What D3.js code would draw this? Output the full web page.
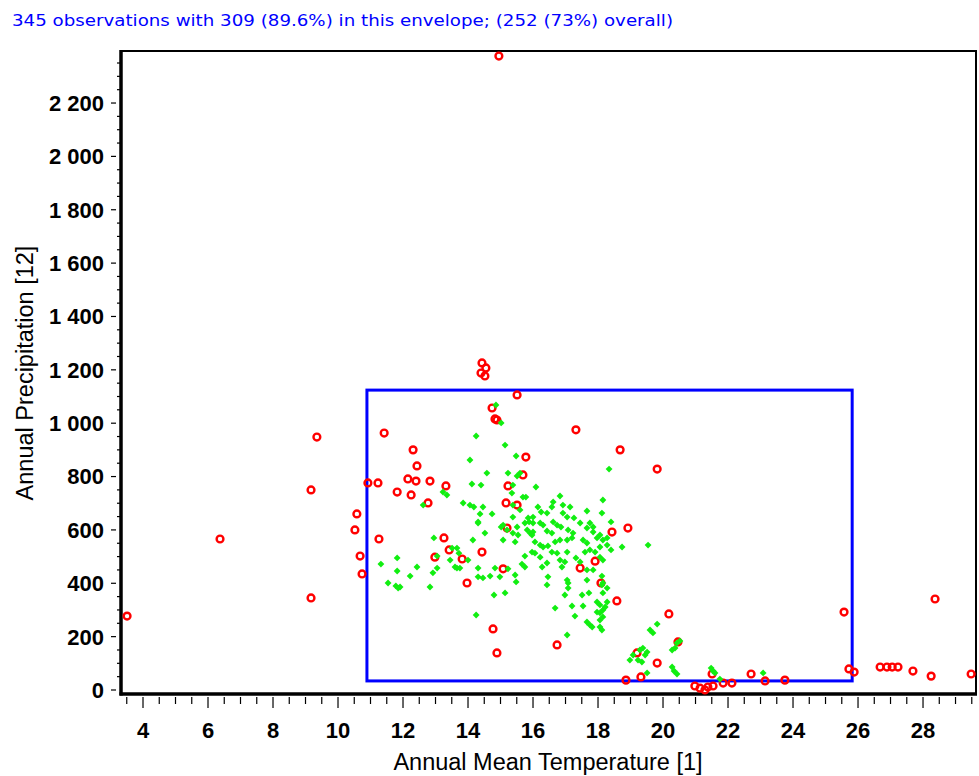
<!DOCTYPE html>
<html>
<head>
<meta charset="utf-8">
<script src="https://cdn.jsdelivr.net/npm/d3@7"></script>
<style>
  body { margin: 0; background: #fff; }
  svg { display: block; }
</style>
</head>
<body>
<div id="chart"></div>
<script>
// chart values
var titleText = "345 observations with 309 (89.6%) in this envelope; (252 (73%) overall)";
var xLabel = "Annual Mean Temperature [1]";
var yLabel = "Annual Precipitation [12]";

var xTicks = [4, 6, 8, 10, 12, 14, 16, 18, 20, 22, 24, 26, 28];
var yTicks = [0, 200, 400, 600, 800, 1000, 1200, 1400, 1600, 1800, 2000, 2200];

// envelope box: [tempMin, tempMax], [precipMin, precipMax]
var envTemp = [10.89, 25.82];
var envPrecip = [34, 1124];

// red rings (temperature, precipitation)
var outliers = [
  [3.51,277],[6.37,566],[9.17,750],[9.35,948],[9.17,345],[10.58,660],[10.52,600],[10.68,502],[10.74,435],[10.92,776],
  [11.23,776],[11.26,566],[11.42,963],[12.31,900],[12.43,840],[12.15,791],[12.4,783],[12.83,783],[11.82,742],[12.25,731],
  [12.77,701],[13.32,765],[13.26,570],[14.43,1226],[14.55,1207],[14.4,1188],[14.52,1177],[14.95,2376],[15.51,1106],[14.74,1057],
  [14.83,1016],[14.89,1012],[15.78,873],[15.69,806],[15.23,765],[15.17,701],[15.51,693],[15.2,607],[18.43,592],[18.92,607],
  [13.42,525],[12.98,498],[13.82,491],[14.43,517],[15.08,454],[17.45,457],[17.91,483],[18.09,401],[13.97,401],[18.58,334],
  [14.77,229],[16.74,169],[14.89,139],[17.32,975],[18.68,900],[19.82,828],[20.18,285],[20.46,180],[19.2,139],[19.82,101],
  [18.86,37],[19.32,49],[20.98,15],[21.14,7],[21.29,0],[21.38,11],[21.54,15],[21.51,60],[21.85,26],[22.12,26],
  [22.71,60],[23.14,34],[23.75,37],[25.57,292],[25.72,79],[25.88,67],[26.68,86],[26.89,86],[27.05,86],[27.23,86],
  [27.69,71],[28.25,52],[28.37,341],[29.48,60]
];

// green diamonds (temperature, precipitation)
var inliers = [
  [14.86,1068],[15.02,1001],[14.25,952],[15.14,918],[14.06,862],[15.48,877],[14.58,813],[15.23,813],[15.51,802],[15.6,813],
  [14.12,772],[14.4,768],[13.23,742],[13.35,731],[12.62,693],[13.85,701],[14.06,693],[14.18,686],[14.46,686],[15.35,738],
  [15.69,723],[15.38,693],[14.37,660],[14.74,660],[15.6,675],[14.31,626],[15.08,618],[15.2,600],[15.38,588],[15.75,626],
  [14.52,588],[15.91,588],[16.0,592],[12.95,570],[14.15,562],[15.08,562],[16.15,686],[16.0,648],[16.09,761],[15.78,723],
  [16.83,727],[16.62,705],[16.58,686],[16.92,693],[17.14,686],[18.15,712],[16.25,667],[16.43,663],[16.92,663],[17.05,648],
  [17.66,671],[18.12,663],[15.38,648],[15.85,645],[15.88,630],[16.0,626],[16.22,626],[16.31,618],[16.62,630],[16.74,618],
  [16.86,611],[17.26,645],[17.45,626],[17.75,626],[17.85,611],[18.4,630],[14.31,630],[15.02,611],[15.51,611],[15.54,581],
  [15.82,600],[15.97,581],[16.43,596],[16.58,588],[17.08,600],[17.23,588],[17.66,607],[17.85,592],[18.06,581],[18.15,562],
  [15.45,555],[16.06,555],[16.22,543],[16.31,536],[16.46,540],[16.68,555],[16.83,562],[17.05,562],[17.2,570],[17.54,562],
  [17.66,551],[17.97,570],[18.28,570],[18.74,536],[18.06,536],[18.28,543],[13.66,532],[15.97,517],[16.06,513],[16.58,517],
  [16.74,513],[17.05,517],[17.6,517],[17.75,525],[17.91,517],[18.4,525],[13.45,487],[14.0,487],[15.75,502],[16.22,498],
  [16.43,476],[16.83,487],[16.98,480],[17.32,495],[17.45,480],[18.06,498],[18.15,487],[12.43,461],[13.05,457],[12.92,439],
  [13.66,457],[13.75,457],[14.31,457],[14.83,457],[15.23,454],[15.66,472],[15.75,461],[16.28,461],[16.89,461],[17.66,450],
  [17.85,450],[12.22,427],[14.68,427],[15.45,431],[14.31,424],[14.46,420],[14.98,424],[16.46,424],[17.05,412],[17.08,401],
  [17.66,412],[18.12,427],[12.83,386],[15.48,405],[16.43,394],[17.08,382],[18.12,394],[18.28,382],[14.8,356],[15.14,364],
  [16.98,356],[17.51,356],[17.72,364],[17.97,330],[18.06,319],[18.28,330],[17.2,315],[17.54,315],[16.68,307],[18.15,300],
  [18.06,289],[17.97,292],[17.29,277],[18.15,274],[14.25,281],[17.66,255],[17.75,244],[17.82,236],[18.06,236],[18.12,225],
  [17.05,206],[11.82,495],[11.32,472],[13.05,502],[11.82,446],[11.54,401],[11.78,390],[11.91,386],[11.85,382],[13.6,461],
  [13.72,513],[13.51,532],[15.38,768],[18.34,828],[18.15,401],[18.15,364],[18.22,311],[18.06,262],[19.82,247],[19.6,225],
  [19.69,214],[20.28,150],[20.37,157],[20.43,176],[20.52,184],[19.29,150],[19.38,157],[19.51,142],[19.45,131],[19.23,112],
  [19.35,105],[19.08,131],[18.98,112],[19.51,64],[20.28,86],[20.34,71],[20.43,60],[21.48,82],[21.54,71],[21.6,64],
  [21.75,41],[23.08,64],[19.54,543]
];

var width = 979;
var height = 776;
var plot = { left: 121, right: 976, top: 51, bottom: 694 };

var svg = d3.select("#chart")
    .append("svg")
    .attr("width", width)
    .attr("height", height)
    .style("font-family", "'Liberation Sans', Arial, sans-serif");

var x = d3.scaleLinear().domain([3.323, 29.63]).range([plot.left, plot.right]);
var y = d3.scaleLinear().domain([-15, 2395]).range([plot.bottom, plot.top]);

var fmt = function(d) { return d3.format(",")(d).replace(/,/g, " "); };

// title
svg.append("text")
    .attr("x", 12)
    .attr("y", 26)
    .attr("fill", "#0000ff")
    .style("font-family", "'DejaVu Sans', Verdana, sans-serif")
    .style("font-size", "15px")
    .attr("textLength", 661)
    .attr("lengthAdjust", "spacingAndGlyphs")
    .text(titleText);

// frame (thin top/right)
svg.append("rect")
    .attr("x", plot.left)
    .attr("y", plot.top)
    .attr("width", plot.right - plot.left)
    .attr("height", plot.bottom - plot.top)
    .attr("fill", "none")
    .attr("stroke", "#000")
    .attr("stroke-width", 2);

// x ticks
var xMinor = d3.range(3.5, 29.6, 0.5);
svg.append("g").selectAll("line")
    .data(xMinor)
    .enter().append("line")
    .attr("x1", function(d) { return x(d); })
    .attr("x2", function(d) { return x(d); })
    .attr("y1", plot.bottom + 3)
    .attr("y2", function(d) { return xTicks.indexOf(d) >= 0 ? plot.bottom + 14 : plot.bottom + 10; })
    .attr("stroke", "#000")
    .attr("stroke-width", 1.2);

svg.append("g").selectAll("text")
    .data(xTicks)
    .enter().append("text")
    .attr("x", function(d) { return x(d); })
    .attr("y", 738)
    .attr("text-anchor", "middle")
    .style("font-size", "22px")
    .style("font-weight", "bold")
    .text(function(d) { return d; });

// y ticks
var yMinor = d3.range(0, 2400, 50);
svg.append("g").selectAll("line")
    .data(yMinor)
    .enter().append("line")
    .attr("x1", function(d) { return yTicks.indexOf(d) >= 0 ? plot.left - 10 : plot.left - 4; })
    .attr("x2", function(d) { return yTicks.indexOf(d) >= 0 ? plot.left - 5 : plot.left - 1; })
    .attr("y1", function(d) { return y(d); })
    .attr("y2", function(d) { return y(d); })
    .attr("stroke", "#000")
    .attr("stroke-width", 1.2);

svg.append("g").selectAll("text")
    .data(yTicks)
    .enter().append("text")
    .attr("x", 104)
    .attr("y", function(d) { return y(d); })
    .attr("dy", "0.36em")
    .attr("text-anchor", "end")
    .style("font-size", "22px")
    .style("font-weight", "bold")
    .text(fmt);

// thick left and bottom axis lines
svg.append("line")
    .attr("x1", plot.left).attr("x2", plot.left)
    .attr("y1", plot.top - 1).attr("y2", plot.bottom + 1.5)
    .attr("stroke", "#000").attr("stroke-width", 3.5);
svg.append("line")
    .attr("x1", plot.left - 1.5).attr("x2", plot.right + 1)
    .attr("y1", plot.bottom).attr("y2", plot.bottom)
    .attr("stroke", "#000").attr("stroke-width", 3.5);

// axis titles
svg.append("text")
    .attr("x", 548)
    .attr("y", 770)
    .attr("text-anchor", "middle")
    .style("font-size", "23.5px")
    .text(xLabel);

svg.append("text")
    .attr("transform", "translate(33,373) rotate(-90)")
    .attr("text-anchor", "middle")
    .style("font-size", "23.5px")
    .text(yLabel);

// envelope
svg.append("rect")
    .attr("x", x(envTemp[0]))
    .attr("y", y(envPrecip[1]))
    .attr("width", x(envTemp[1]) - x(envTemp[0]))
    .attr("height", y(envPrecip[0]) - y(envPrecip[1]))
    .attr("fill", "none")
    .attr("stroke", "#0000ff")
    .attr("stroke-width", 3);

// points
var g = svg.append("g");

g.selectAll("circle.out")
    .data(outliers)
    .enter().append("circle")
    .attr("class", "out")
    .attr("cx", function(d) { return x(d[0]); })
    .attr("cy", function(d) { return y(d[1]); })
    .attr("r", 3.4)
    .attr("fill", "none")
    .attr("stroke", "#ff0000")
    .attr("stroke-width", 2.4);

var diamond = d3.symbol().type(d3.symbolDiamond2).size(30);
g.selectAll("path.in")
    .data(inliers)
    .enter().append("path")
    .attr("class", "in")
    .attr("transform", function(d) { return "translate(" + x(d[0]) + "," + y(d[1]) + ")"; })
    .attr("d", diamond)
    .attr("fill", "#11ee11");
</script>
</body>
</html>
